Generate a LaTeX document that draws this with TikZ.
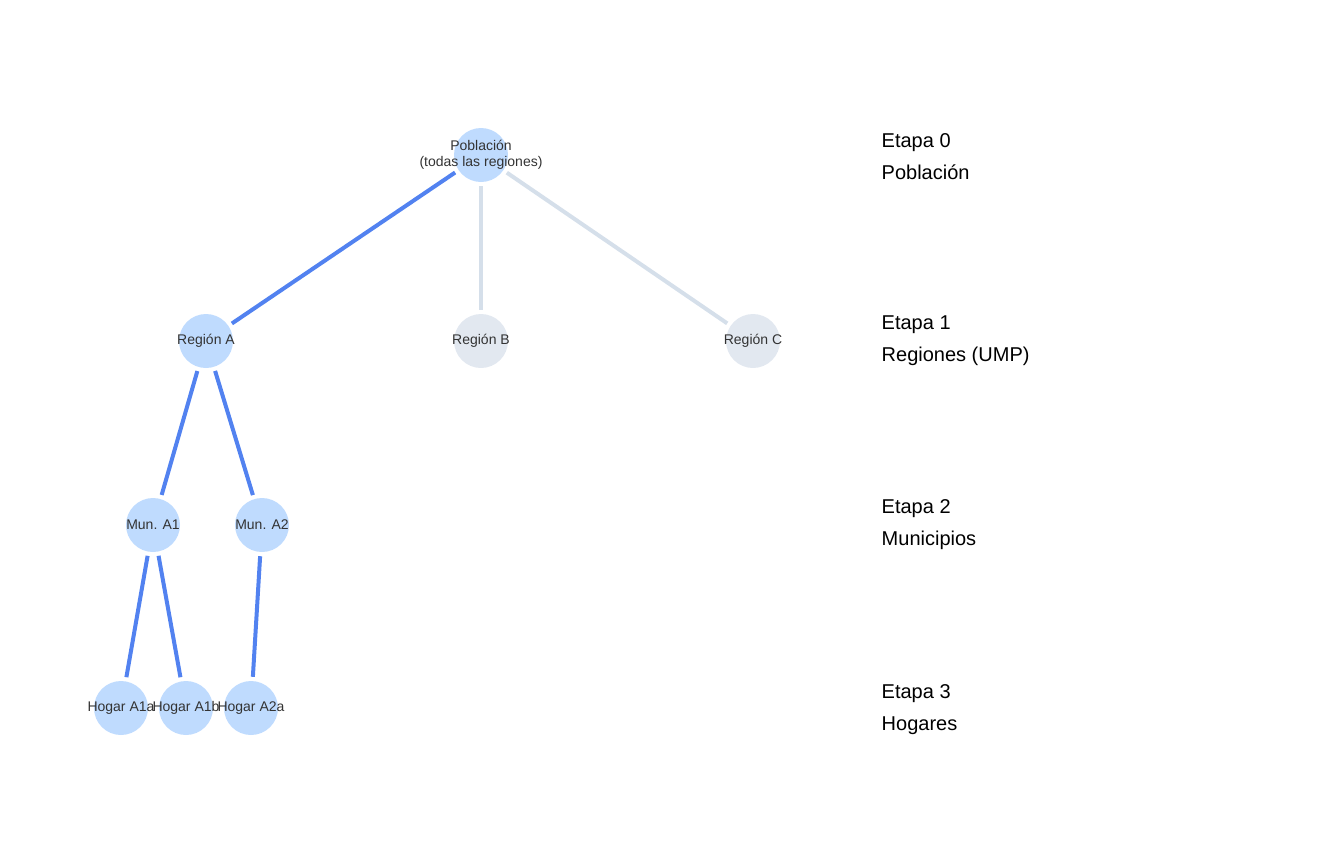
\documentclass[tikz,border=0pt]{standalone}
\usepackage{fontspec}
\setmainfont{Liberation Sans}
\begin{document}
\begin{tikzpicture}[x=0.75pt,y=-0.75pt,
  sel/.style={circle,fill=selc,draw=none,minimum size=40.5pt,inner sep=0pt,text=txt,font=\fontsize{10.5}{12}\selectfont,align=center},
  uns/.style={sel,fill=unsc},
  se/.style={draw=sele,line width=3pt,shorten <=3pt,shorten >=3pt},
  ue/.style={draw=unse,line width=3pt,shorten <=3pt,shorten >=3pt},
  lab/.style={anchor=west,font=\fontsize{15}{24}\selectfont,align=left}]
\definecolor{selc}{HTML}{BFDBFE}
\definecolor{unsc}{HTML}{E2E8F0}
\definecolor{sele}{HTML}{5282F0}
\definecolor{unse}{HTML}{D5DFEA}
\definecolor{txt}{HTML}{333333}
\useasboundingbox (0,0) rectangle (1344,864);
\node[sel] (p) at (481,155) {};
\node[sel] (a) at (206,341) {};
\node[uns] (b) at (481,341) {};
\node[uns] (c) at (753,341) {};
\node[sel] (m1) at (153,525) {};
\node[sel] (m2) at (262,525) {};
\node[sel] (h1) at (121,708) {};
\node[sel] (h2) at (186,708) {};
\node[sel] (h3) at (251,708) {};
\draw[ue] (p) -- (b);
\draw[ue] (p) -- (c);
\draw[se] (p) -- (a);
\draw[se] (a) -- (m1);
\draw[se] (a) -- (m2);
\draw[se] (m1) -- (h1);
\draw[se] (m1) -- (h2);
\draw[se] (m2) -- (h3);
\foreach \n/\t in {p/{Población\\(todas las regiones)},a/Región A,b/Región B,c/Región C,m1/Mun. A1,m2/Mun. A2,h1/Hogar A1a,h2/Hogar A1b,h3/Hogar A2a}
  \node[text=txt,font=\fontsize{10.5}{12}\selectfont,align=center] (t\n) at (\n) {\t};
\node[lab] (l0) at (877,157) {Etapa 0\\Población};
\node[lab] (l1) at (877,341) {Etapa 1\\Regiones (UMP)};
\node[lab] (l2) at (877,525) {Etapa 2\\Municipios};
\node[lab] (l3) at (877,710) {Etapa 3\\Hogares};
\end{tikzpicture}
\end{document}
